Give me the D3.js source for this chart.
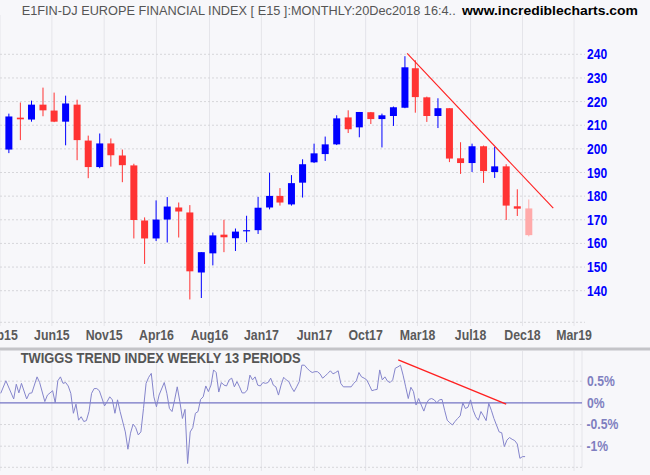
<!DOCTYPE html>
<html>
<head>
<meta charset="utf-8">
<script src="https://cdn.jsdelivr.net/npm/d3@7"></script>
<style>
body { margin: 0; background: #f7f7fa; }
svg { display: block; }
text { font-family: "Liberation Sans", Arial, sans-serif; }
</style>
</head>
<body>
<svg id="chart" width="650" height="475"></svg>
<script>
// monthly candles, each month placed at its last day
var months = ["2015-02","2015-03","2015-04","2015-05","2015-06","2015-07","2015-08","2015-09","2015-10","2015-11","2015-12",
  "2016-01","2016-02","2016-03","2016-04","2016-05","2016-06","2016-07","2016-08","2016-09","2016-10","2016-11","2016-12",
  "2017-01","2017-02","2017-03","2017-04","2017-05","2017-06","2017-07","2017-08","2017-09","2017-10","2017-11","2017-12",
  "2018-01","2018-02","2018-03","2018-04","2018-05","2018-06","2018-07","2018-08","2018-09","2018-10","2018-11","2018-12"];
var opens  = [199.7,213.2,212.4,218.7,216.2,211.5,218.7,203.5,192.3,202.3,197.2,
  193.0,169.7,162.1,170.1,175.2,173.1,147.7,155.8,163.7,162.2,165.1,165.6,
  175.2,180.1,176.5,185.7,194.3,197.8,201.9,213.3,209.1,215.5,212.6,213.9,
  217.4,234.1,221.8,213.9,217.2,196.0,194.0,201.1,190.2,192.6,175.7,174.8];
var highs  = [214.9,219.6,220.4,225.9,223.8,222.5,220.8,205.6,206.5,204.4,199.7,
  193.7,171.0,178.2,179.6,177.3,176.2,156.3,164.6,170.0,166.3,171.7,179.7,
  189.9,183.4,188.9,195.6,202.2,205.2,214.2,216.3,215.6,215.6,214.9,217.9,
  239.2,237.5,222.1,221.4,217.2,202.8,202.2,201.4,200.8,193.5,182.9,178.6];
var lows   = [198.2,203.7,211.5,213.8,211.3,201.5,195.2,187.6,191.8,192.5,185.9,
  162.1,151.3,161.0,160.4,162.5,136.3,136.9,150.7,156.3,156.8,160.5,164.0,
  174.4,176.0,176.0,179.4,194.0,194.9,201.6,206.7,204.9,210.5,200.6,209.7,
  217.2,215.3,211.4,208.8,194.4,189.4,190.2,185.6,187.7,169.9,171.6,163.0];
var closes = [213.7,212.5,218.7,216.3,211.5,219.2,203.7,192.3,202.3,197.3,193.1,
  169.9,162.1,170.1,175.6,173.5,148.2,156.3,163.4,162.6,165.0,165.6,175.1,
  180.1,177.3,185.5,193.5,198.1,201.9,212.9,208.3,215.6,212.6,214.2,217.6,
  234.5,221.9,213.9,217.2,195.9,194.0,201.1,190.6,192.6,176.0,174.7,163.5];

var priceTicks = [140,150,160,170,180,190,200,210,220,230,240];
var tickDates  = ["2015-02-04","2015-06-24","2015-11-12","2016-04-01","2016-08-22","2017-01-09",
  "2017-06-01","2017-10-17","2018-03-06","2018-07-27","2018-12-14","2019-05-02"];
var tickLabels = ["Feb15","Jun15","Nov15","Apr16","Aug16","Jan17","Jun17","Oct17","Mar18","Jul18","Dec18","Mar19"];

var priceTrendDates  = ["2018-02-06","2019-03-07"];
var priceTrendValues = [240.4,174.9];

// weekly Twiggs Trend Index, week number counted from twiggsStart
var twiggsStart = "2015-02-06";
var twiggsWeeks = [0,2,5,6,7,8,10,11,12,14,15,17,18,20,21,22,23,24,25,26,27,28,29,30,31,32,33,34,35,36,37,38,40,41,42,43,44,45,46,48,49,
  50,51,52,53,54,55,56,57,58,59,60,61,63,64,65,66,67,68,69,70,71,72,73,74,75,76,77,78,79,80,81,82,83,84,85,86,87,88,89,
  90,91,92,93,94,95,96,97,98,99,100,101,102,103,104,105,106,107,108,109,110,111,112,113,114,115,116,117,118,119,
  120,121,122,123,124,125,126,127,128,129,130,131,132,133,135,136,137,138,139,140,141,142,143,144,145,146,147,148,149,
  150,151,152,153,154,155,156,157,158,159,160,161,162,163,164,165,166,167,168,169,170,171,172,173,174,175,176,177,178,179,
  180,181,182,183,184,185,186,187,188,189,190,192,193,194,195,196,197,198,199,200,201,202];
var twiggsValues = [0.22,0.51,0.09,0.43,0.23,0.45,0.09,0.22,0.23,0.60,0.47,0.03,0.18,0.28,0.00,0.51,0.60,0.45,0.47,0.39,0.22,-0.24,-0.03,-0.40,-0.32,-0.43,-0.41,-0.20,0.22,0.33,0.33,0.28,-0.07,0.03,0.14,0.07,-0.24,0.07,-0.20,-0.67,-1.07,
  -0.70,-0.49,-0.57,-0.74,-0.67,-0.13,0.45,0.59,0.68,0.14,-0.09,0.18,0.47,0.22,-0.13,-0.20,0.07,0.37,0.03,-0.36,-0.15,-1.40,-0.67,-0.57,-0.24,-0.20,0.08,0.14,0.39,0.26,0.41,0.76,0.70,0.25,0.47,0.41,0.39,0.53,0.57,
  0.37,0.49,0.37,0.23,0.23,0.30,0.64,0.53,0.60,0.41,0.39,0.47,0.45,0.47,0.57,0.41,0.37,0.18,0.41,0.59,0.53,0.49,0.36,0.26,0.37,0.49,0.87,0.87,0.80,0.74,
  0.70,0.72,0.72,0.67,0.57,0.62,0.68,0.74,0.67,0.70,0.74,0.45,0.37,0.37,0.37,0.45,0.51,0.70,0.60,0.57,0.53,0.41,0.28,0.30,0.31,0.76,0.53,0.60,0.50,
  0.47,0.53,0.80,0.83,0.87,0.64,0.37,0.10,0.36,0.26,-0.05,0.10,-0.05,-0.19,-0.01,0.08,0.10,0.07,0.00,0.07,0.08,-0.17,-0.40,-0.46,-0.51,-0.43,-0.36,-0.30,0.00,-0.13,
  -0.10,0.07,-0.17,-0.32,-0.40,-0.20,-0.30,-0.41,-0.01,-0.17,-0.36,-0.67,-0.69,-1.01,-0.86,-0.80,-0.84,-0.87,-0.95,-1.28,-1.24,-1.24];
var twiggsTicks = [0.5,0,-0.5,-1];
var twiggsTickLabels = ["0.5%","0%","-0.5%","-1%"];
var twiggsTrendDates  = ["2018-01-13","2018-10-31"];
var twiggsTrendValues = [0.99,-0.03];

var svg, x, y, y2, parseDay, parseMonth, condense, candles, weekly, top, plotRight;

svg = d3.select("#chart");
parseDay = d3.timeParse("%Y-%m-%d");
parseMonth = d3.timeParse("%Y-%m");
plotRight = 585;

condense = function(sel, k) {
  sel.each(function() {
    var w = this.getComputedTextLength();
    d3.select(this).attr("textLength", w * k).attr("lengthAdjust", "spacingAndGlyphs");
  });
};

x = d3.scaleTime().domain([new Date(2015, 1, 27), new Date(2018, 10, 30)]).range([8.5, 517.3]);
y = d3.scaleLinear().domain([140, 240]).range([290.7, 54.3]);
y2 = d3.scaleLinear().domain([-1, 0.5]).range([446.2, 381.2]);

candles = months.map(function(m, i) {
  var d = d3.timeDay.offset(d3.timeMonth.offset(parseMonth(m), 1), -1);
  return { date: d, o: opens[i], h: highs[i], l: lows[i], c: closes[i], last: i === months.length - 1 };
});

weekly = twiggsWeeks.map(function(w, i) {
  return { date: d3.timeDay.offset(parseDay(twiggsStart), w * 7), v: twiggsValues[i] };
});

svg.append("rect").attr("width", 650).attr("height", 475).attr("fill", "#f7f7fa");

// vertical grid, both panels
svg.append("g").selectAll("line").data(tickDates).enter().append("line")
  .attr("x1", function(d) { return x(parseDay(d)); }).attr("x2", function(d) { return x(parseDay(d)); })
  .attr("y1", 15).attr("y2", 326).attr("stroke", "#e5e5ea");
svg.append("g").selectAll("line").data(tickDates).enter().append("line")
  .attr("x1", function(d) { return x(parseDay(d)); }).attr("x2", function(d) { return x(parseDay(d)); })
  .attr("y1", 351).attr("y2", 471).attr("stroke", "#e5e5ea");

// horizontal price grid
svg.append("g").selectAll("line").data(priceTicks).enter().append("line")
  .attr("x1", 0).attr("x2", plotRight).attr("y1", function(d) { return y(d); }).attr("y2", function(d) { return y(d); })
  .attr("stroke", "#d6d6da").attr("stroke-dasharray", "2,2");
svg.append("line").attr("x1", 0).attr("x2", plotRight).attr("y1", 322.3).attr("y2", 322.3)
  .attr("stroke", "#d6d6da").attr("stroke-dasharray", "2,2");

svg.append("g").selectAll("text").data(priceTicks).enter().append("text")
  .attr("x", 587).attr("y", function(d) { return y(d) + 5; })
  .attr("font-size", 14).attr("font-weight", "bold").attr("fill", "#0000ff")
  .text(function(d) { return d; }).call(condense, 0.86);

svg.append("g").selectAll("text").data(tickDates).enter().append("text")
  .attr("x", function(d) { return x(parseDay(d)); }).attr("y", 340)
  .attr("text-anchor", "middle").attr("font-size", 14).attr("font-weight", "bold").attr("fill", "#5a5a5a")
  .text(function(d, i) { return tickLabels[i]; }).call(condense, 0.88);

// candles
var cg = svg.append("g").selectAll("g").data(candles).enter().append("g");
cg.append("line")
  .attr("x1", function(d) { return x(d.date); }).attr("x2", function(d) { return x(d.date); })
  .attr("y1", function(d) { return y(d.h); }).attr("y2", function(d) { return y(d.l); })
  .attr("stroke", function(d) { return d.last ? "#ffaaaa" : (d.c >= d.o ? "#0000ff" : "#ff3333"); })
  .attr("stroke-width", 1);
cg.append("rect")
  .attr("x", function(d) { return x(d.date) - 3.5; }).attr("width", 7)
  .attr("y", function(d) { return y(Math.max(d.o, d.c)); })
  .attr("height", function(d) { return Math.max(1, Math.abs(y(d.o) - y(d.c))); })
  .attr("fill", function(d) { return d.last ? "#ffaaaa" : (d.c >= d.o ? "#0000ff" : "#ff3333"); });

svg.append("line")
  .attr("x1", x(parseDay(priceTrendDates[0]))).attr("y1", y(priceTrendValues[0]))
  .attr("x2", x(parseDay(priceTrendDates[1]))).attr("y2", y(priceTrendValues[1]))
  .attr("stroke", "#ff2020").attr("stroke-width", 1.1);

// titles
svg.append("text").attr("x", 21.7).attr("y", 14.5).attr("font-size", 12).attr("fill", "#555")
  .attr("textLength", 434).attr("lengthAdjust", "spacingAndGlyphs")
  .text("E1FIN-DJ EUROPE FINANCIAL INDEX [ E15 ]:MONTHLY:20Dec2018 16:4..");
svg.append("text").attr("x", 462).attr("y", 14.5).attr("font-size", 13).attr("font-weight", "bold").attr("fill", "#000")
  .attr("textLength", 176).attr("lengthAdjust", "spacingAndGlyphs")
  .text("www.incrediblecharts.com");

// panel separator
svg.append("rect").attr("x", 0).attr("y", 347.5).attr("width", 650).attr("height", 3).attr("fill", "#c4c4c8");

// lower panel
svg.append("g").selectAll("line").data(twiggsTicks.filter(function(d) { return d !== 0; })).enter().append("line")
  .attr("x1", 0).attr("x2", 582).attr("y1", function(d) { return y2(d); }).attr("y2", function(d) { return y2(d); })
  .attr("stroke", "#d6d6da").attr("stroke-dasharray", "2,2");
svg.append("line").attr("x1", 0).attr("x2", 582).attr("y1", 467.3).attr("y2", 467.3)
  .attr("stroke", "#d6d6da").attr("stroke-dasharray", "2,2");
svg.append("line").attr("x1", 582).attr("x2", 582).attr("y1", 351).attr("y2", 467.3).attr("stroke", "#e5e5ea");
svg.append("line").attr("x1", 0).attr("x2", 582).attr("y1", y2(0)).attr("y2", y2(0))
  .attr("stroke", "#7474c4").attr("stroke-width", 1.4);

svg.append("text").attr("x", 20.7).attr("y", 363.3).attr("font-size", 15).attr("font-weight", "bold").attr("fill", "#555")
  .attr("textLength", 280).attr("lengthAdjust", "spacingAndGlyphs")
  .text("TWIGGS TREND INDEX WEEKLY 13 PERIODS");

svg.append("path").datum(weekly)
  .attr("d", d3.line().x(function(d) { return x(d.date); }).y(function(d) { return y2(d.v); }))
  .attr("fill", "none").attr("stroke", "#8585cc").attr("stroke-width", 1);

svg.append("line")
  .attr("x1", x(parseDay(twiggsTrendDates[0]))).attr("y1", y2(twiggsTrendValues[0]))
  .attr("x2", x(parseDay(twiggsTrendDates[1]))).attr("y2", y2(twiggsTrendValues[1]))
  .attr("stroke", "#ff2020").attr("stroke-width", 1.4);

svg.append("g").selectAll("text").data(twiggsTicks).enter().append("text")
  .attr("x", function(d) { return d < 0 ? 586.5 : 587; }).attr("y", function(d) { return y2(d) + 4.8; })
  .attr("font-family", "'Liberation Serif', 'Times New Roman', serif")
  .attr("font-size", 14).attr("font-weight", "bold").attr("fill", "#7f7fc0")
  .text(function(d, i) { return twiggsTickLabels[i]; }).call(condense, 0.87);
</script>
</body>
</html>
